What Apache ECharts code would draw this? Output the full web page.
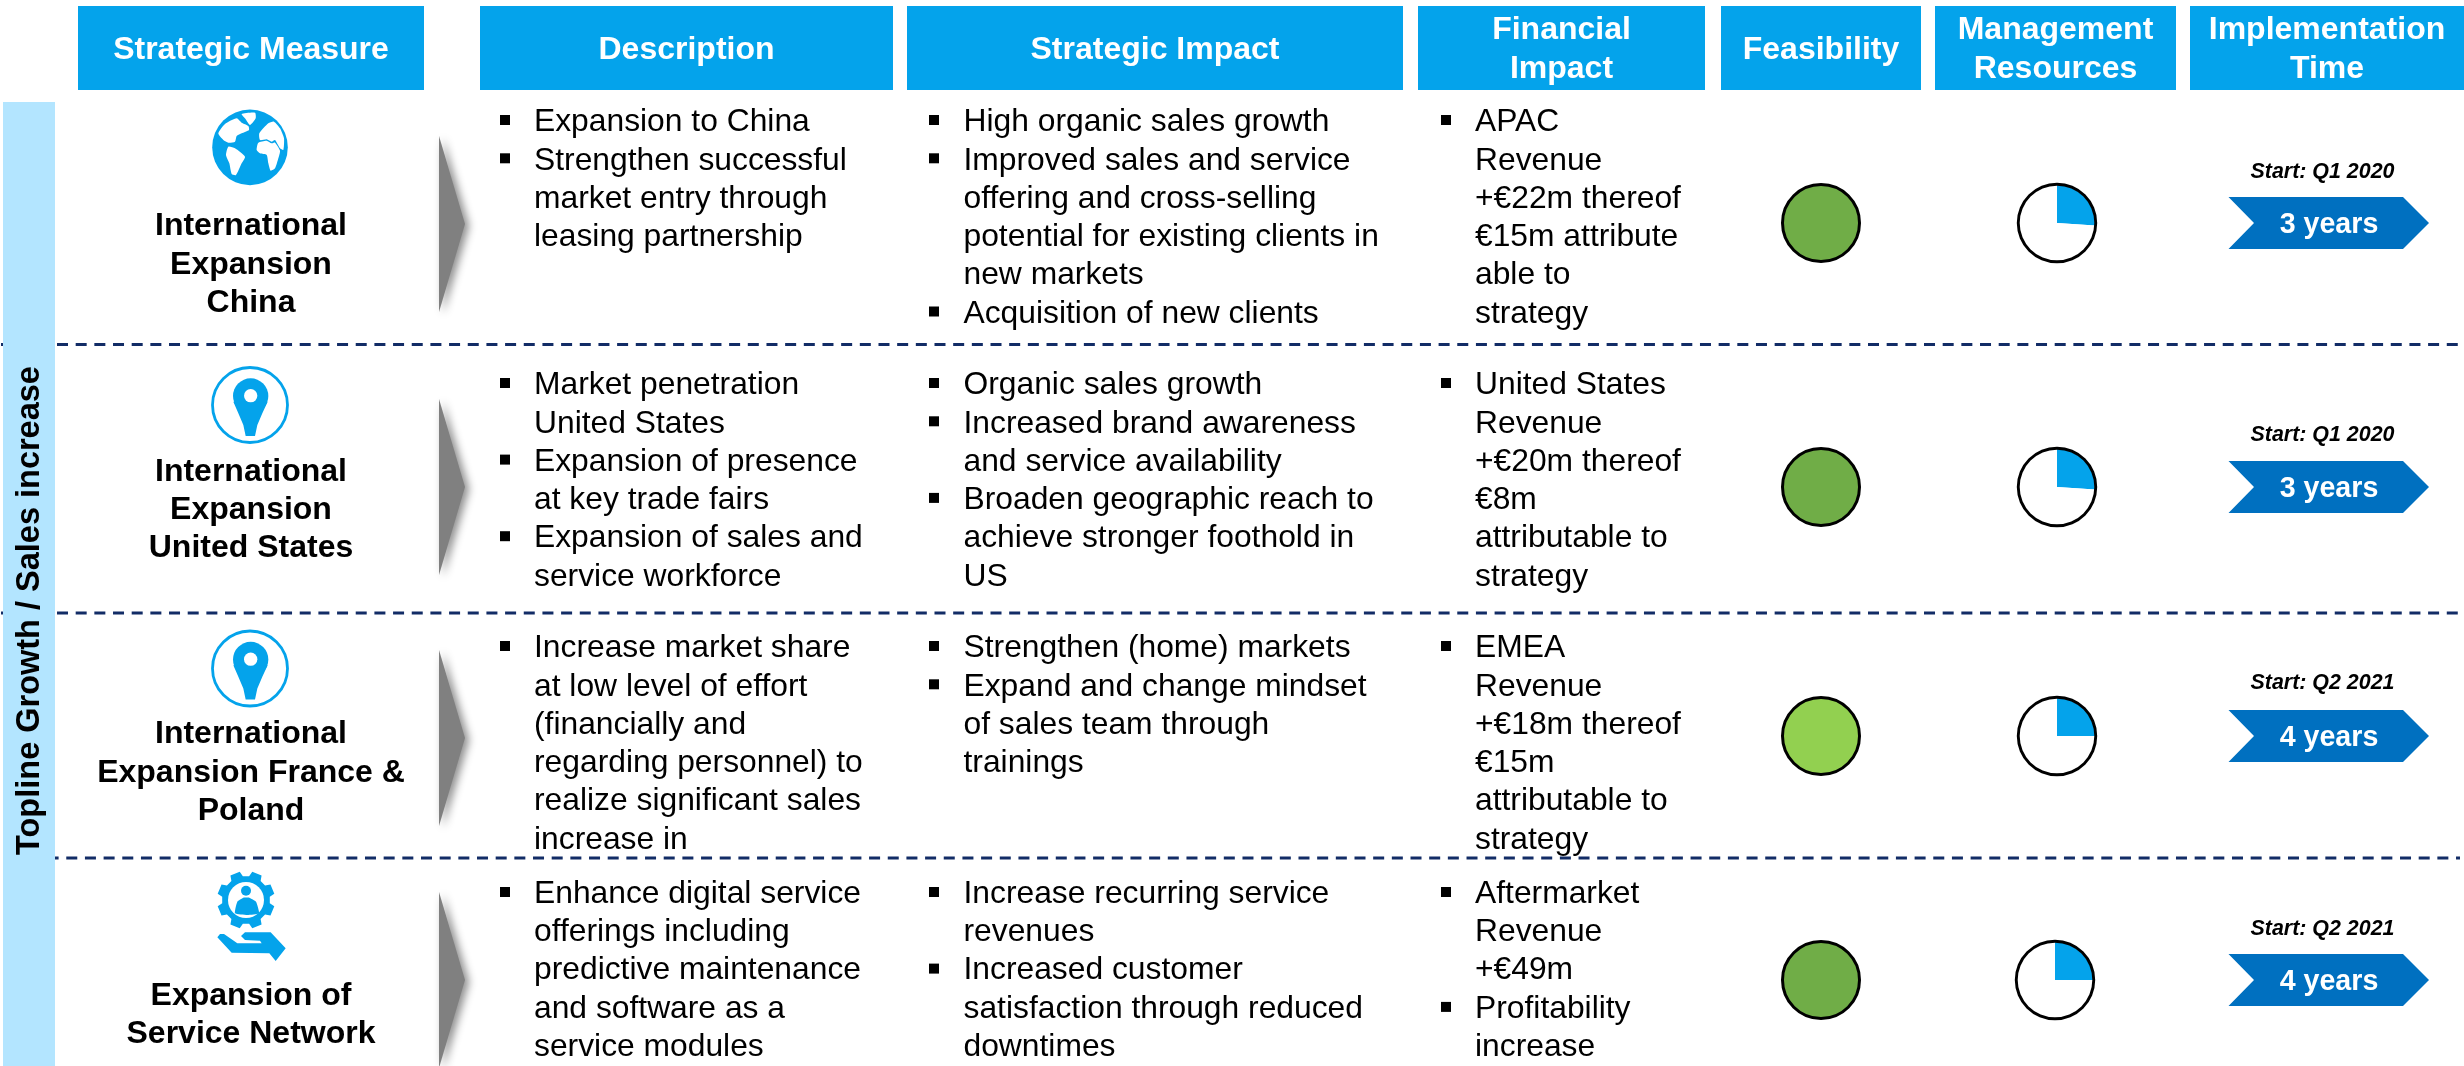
<!DOCTYPE html>
<html><head><meta charset="utf-8">
<style>html,body{margin:0;padding:0;background:#fff}#c{width:2464px;height:1066px}</style>
<script src="https://cdn.jsdelivr.net/npm/echarts@6/dist/echarts.min.js"></script>
</head><body><div id="c"></div>
<script>
const sideLabel = 'Topline Growth / Sales increase';
const headers = [
  ['Strategic Measure'], ['Description'], ['Strategic Impact'], ['Financial', 'Impact'],
  ['Feasibility'], ['Management', 'Resources'], ['Implementation', 'Time']
];
const measures = [
  ['International', 'Expansion', 'China'],
  ['International', 'Expansion', 'United States'],
  ['International', 'Expansion France &', 'Poland'],
  ['Expansion of', 'Service Network']
];
const descriptions = [
  [['Expansion to China'], ['Strengthen successful', 'market entry through', 'leasing partnership']],
  [['Market penetration', 'United States'], ['Expansion of presence', 'at key trade fairs'], ['Expansion of sales and', 'service workforce']],
  [['Increase market share', 'at low level of effort', '(financially and', 'regarding personnel) to', 'realize significant sales', 'increase in']],
  [['Enhance digital service', 'offerings including', 'predictive maintenance', 'and software as a', 'service modules']]
];
const impacts = [
  [['High organic sales growth'], ['Improved sales and service', 'offering and cross-selling', 'potential for existing clients in', 'new markets'], ['Acquisition of new clients']],
  [['Organic sales growth'], ['Increased brand awareness', 'and service availability'], ['Broaden geographic reach to', 'achieve stronger foothold in', 'US']],
  [['Strengthen (home) markets'], ['Expand and change mindset', 'of sales team through', 'trainings']],
  [['Increase recurring service', 'revenues'], ['Increased customer', 'satisfaction through reduced', 'downtimes']]
];
const financials = [
  [['APAC', 'Revenue', '+€22m thereof', '€15m attribute', 'able to', 'strategy']],
  [['United States', 'Revenue', '+€20m thereof', '€8m', 'attributable to', 'strategy']],
  [['EMEA', 'Revenue', '+€18m thereof', '€15m', 'attributable to', 'strategy']],
  [['Aftermarket', 'Revenue', '+€49m'], ['Profitability', 'increase']]
];
const feasibility = [100, 100, 100, 100];
const feasibilityColors = ['#70AD47', '#70AD47', '#92D050', '#70AD47'];
const managementShare = [26, 26, 25, 25];
const startLabels = ['Start: Q1 2020', 'Start: Q1 2020', 'Start: Q2 2021', 'Start: Q2 2021'];
const durations = ['3 years', '3 years', '4 years', '4 years'];

const FONT = '"Liberation Sans", Arial, sans-serif';
const BLUE = '#04A3EB', BAND = '#B3E5FF', NAVY = '#122C66';
const headerX = [[78,424],[480,893],[907,1403],[1418,1705],[1721,1921],[1935,2176],[2190,2464]];
const firstLineY = [122.5, 385.5, 648.5, 894];
const bulletY = [120, 383, 646, 892];
const ballY = [223, 487, 736, 980];
const harveyX = [2057, 2057, 2057, 2055];
const arrowY = [224, 487, 738, 980];
const startY = [172, 435.5, 683.5, 929];
const nameY = [[226.5,265.5,303.5],[472.5,510.5,548.5],[734.5,773.5,811.5],[996.5,1034.5]];
const LH = 38.3;

const g = [];
const txt = (x, y, text, o = {}) => g.push({
  type: 'text', x, y, rotation: o.rotation || 0, silent: true,
  style: { text, x: 0, y: 0, fill: o.fill || '#000', align: o.align || 'left', verticalAlign: 'middle',
    fontFamily: FONT, fontSize: o.size || 32, fontWeight: o.weight || 'normal', fontStyle: o.style || 'normal' }
});
const poly = (ox, oy, s, pts, fill, smooth, extra) => g.push(Object.assign({
  type: 'polygon', silent: true,
  shape: { points: pts.map(p => [ox + p[0] / s, oy + p[1] / s]), smooth: smooth || 0 },
  style: { fill }
}, extra || {}));
const circ = (cx, cy, r, fill, stroke, lw) => g.push({
  type: 'circle', silent: true, shape: { cx, cy, r },
  style: { fill: fill || 'transparent', stroke: stroke || null, lineWidth: lw || 0 }
});

// header boxes
headers.forEach((lines, i) => {
  const [a, b] = headerX[i];
  g.push({ type: 'rect', silent: true, shape: { x: a, y: 6, width: b - a, height: 84 }, style: { fill: BLUE } });
  const ys = lines.length === 1 ? [50.5] : [30.5, 69.5];
  lines.forEach((t, k) => txt((a + b) / 2, ys[k], t, { fill: '#fff', weight: 'bold', align: 'center' }));
});

// dashed separators (behind the side band)
[[344.5, 1, 0], [613, 1, 0], [858, 55, 7.4]].forEach(([y, x0, off]) => g.push({
  type: 'line', silent: true, shape: { x1: x0, y1: y, x2: 2460, y2: y },
  style: { stroke: NAVY, lineWidth: 3, lineDash: [11, 7.67], lineDashOffset: off }
}));

// side band
g.push({ type: 'rect', silent: true, shape: { x: 3, y: 102, width: 52, height: 964 }, style: { fill: BAND } });
txt(30.5, 610.5, sideLabel, { rotation: Math.PI / 2, weight: 'bold', align: 'center', size: 32.5 });

// bulleted columns
function column(rows, bulletX, textX) {
  rows.forEach((items, r) => {
    let n = 0;
    items.forEach(lines => {
      g.push({ type: 'rect', silent: true, shape: { x: bulletX, y: bulletY[r] + n * LH - 5, width: 10, height: 10 }, style: { fill: '#000' } });
      lines.forEach(t => { txt(textX, firstLineY[r] + n * LH, t, { size: 31.8 }); n++; });
    });
  });
}
column(descriptions, 500, 534);
column(impacts, 929, 963.5);
column(financials, 1441, 1475);

// measure names + triangle markers
measures.forEach((lines, r) => {
  lines.forEach((t, k) => txt(251, nameY[r][k], t, { weight: 'bold', align: 'center' }));
  const ay = arrowY[r];
  poly(0, 0, 1, [[439, ay - 88], [465, ay], [439, ay + 88]], '#808080', 0,
    { style: { fill: '#808080', shadowBlur: 9, shadowOffsetX: 4, shadowOffsetY: 2, shadowColor: 'rgba(0,0,0,0.45)' } });
});

// icons
function globe(ox, oy) {
  circ(ox + 150 / 3, oy + 142 / 3, 37.8, BLUE);
  const s = 3, w = '#fff';
  poly(ox, oy, s, [[125,42],[165,38],[167,55],[150,75],[135,55]], w, 0.2);
  poly(ox, oy, s, [[55,100],[75,72],[110,55],[125,68],[145,78],[147,90],[125,100],[110,108],[105,125],[85,128],[70,120]], w, 0.2);
  poly(ox, oy, s, [[78,165],[85,140],[105,145],[135,170],[125,190],[108,225],[95,222],[88,190]], w, 0.2);
  poly(ox, oy, s, [[178,100],[180,120],[200,118],[215,125],[225,120],[240,145],[250,150],[252,115],[240,85],[222,65],[205,70]], w, 0.2);
  poly(ox, oy, s, [[170,150],[175,128],[200,122],[215,130],[225,128],[240,152],[235,175],[225,205],[212,212],[205,190],[200,165],[180,160]], w, 0.2);
}
function pin(ox, oy) {
  circ(ox + 50, oy + 45, 37.5, '#fff', BLUE, 2.8);
  circ(ox + 152 / 3, oy + 108 / 3, 53 / 3, BLUE);
  poly(ox, oy, 3, [[100,125],[115,160],[130,195],[137,228],[165,228],[172,195],[187,160],[203,125]], BLUE);
  circ(ox + 152 / 3, oy + 107 / 3, 20 / 3, '#fff');
}
function gear(ox, oy) {
  const cx = 258, cy = 120, pts = [];
  for (let i = 0; i < 8; i++) {
    const c = (22.5 + 45 * i - 90) * Math.PI / 180, d = Math.PI / 180;
    [[72,-15],[87,-10],[87,10],[72,15]].forEach(([r, a]) =>
      pts.push([cx + r * Math.cos(c + a * d), cy + r * Math.sin(c + a * d)]));
  }
  poly(ox, oy, 3, pts, BLUE);
  circ(ox + cx / 3, oy + cy / 3, 18, '#fff');
  circ(ox + 258 / 3, oy + 92 / 3, 5, BLUE);
  poly(ox, oy, 3, [[225,160],[232,125],[250,113],[268,113],[288,125],[297,160],[262,165]], BLUE, 0.15);
  poly(ox, oy, 3, [[172,232],[180,222],[192,222],[232,250],[305,250],[300,242],[255,240],[243,228],[255,217],[332,217],[377,265],[347,303],[328,280],[215,278]], BLUE);
}
globe(200, 100);
pin(200, 360);
pin(200, 623.5);
gear(160, 860);

// chevrons + start labels
durations.forEach((d, r) => {
  const y = ballY[r];
  poly(0, 0, 1, [[2228.5, y - 26], [2403, y - 26], [2429, y], [2403, y + 26], [2228.5, y + 26], [2254, y]], '#0070C0');
  txt(2329, y + 2, d, { fill: '#fff', weight: 'bold', size: 28.6, align: 'center' });
  txt(2322.5, startY[r], startLabels[r], { weight: 'bold', style: 'italic', size: 21.4, align: 'center' });
});

// balls drawn as pie series
const series = [];
feasibility.forEach((v, r) => series.push({
  type: 'pie', silent: true, animation: false, center: [1821, ballY[r]], radius: [0, 38.5],
  label: { show: false }, labelLine: { show: false },
  data: [{ value: v, itemStyle: { color: feasibilityColors[r], borderColor: '#000', borderWidth: 3 } }]
}));
managementShare.forEach((v, r) => {
  series.push({
    type: 'pie', silent: true, animation: false, center: [harveyX[r], ballY[r]], radius: [0, 38],
    startAngle: 90, label: { show: false }, labelLine: { show: false },
    data: [{ value: v, itemStyle: { color: BLUE } }, { value: 100 - v, itemStyle: { color: '#fff' } }]
  });
  series.push({
    type: 'pie', silent: true, animation: false, center: [harveyX[r], ballY[r]], radius: [37.3, 40.2],
    label: { show: false }, labelLine: { show: false },
    data: [{ value: 1, itemStyle: { color: '#000' } }]
  });
});

const chart = echarts.init(document.getElementById('c'), null, { renderer: 'canvas' });
chart.setOption({ backgroundColor: '#fff', animation: false, tooltip: { show: false }, graphic: { elements: g }, series });
</script></body></html>
